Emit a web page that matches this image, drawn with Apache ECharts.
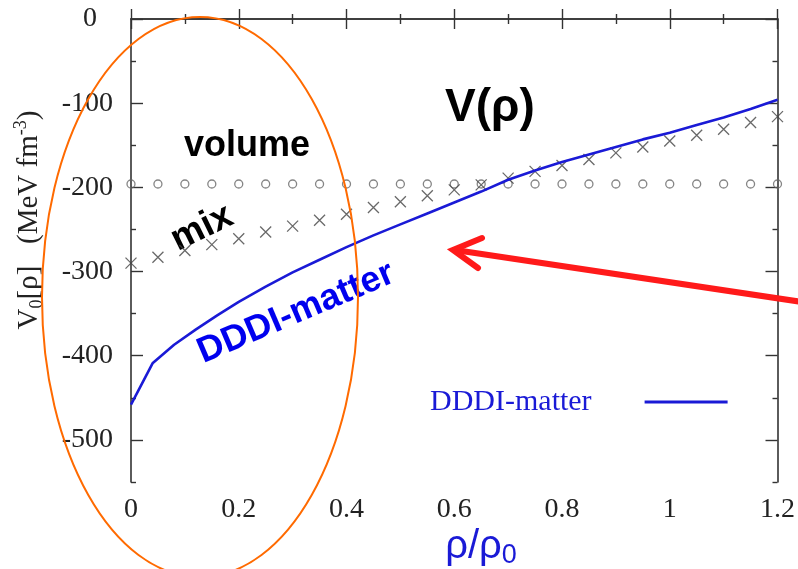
<!DOCTYPE html>
<html>
<head>
<meta charset="utf-8">
<script src="https://cdn.jsdelivr.net/npm/echarts@6/dist/echarts.min.js"></script>
<style>
  html, body { margin: 0; padding: 0; background: #fff; }
  #chart { width: 798px; height: 569px; }
</style>
</head>
<body>
<div id="chart"></div>
<script>
// Density grid (rho / rho0) and potentials in MeV fm^-3
const markerRho = [0, 0.05, 0.1, 0.15, 0.2, 0.25, 0.3, 0.35, 0.4, 0.45, 0.5, 0.55, 0.6,
  0.65, 0.7, 0.75, 0.8, 0.85, 0.9, 0.95, 1.0, 1.05, 1.1, 1.15, 1.2];
const volumeV = [-196, -196, -196, -196, -196, -196, -196, -196, -196, -196, -196, -196, -196,
  -196, -196, -196, -196, -196, -196, -196, -196, -196, -196, -196, -196];
const mixV = [-290, -283, -275, -268, -261, -253, -246, -239, -232, -224, -217, -210, -203,
  -197, -189, -181, -174, -167, -159, -152, -145, -138, -131, -123, -116];

const dddiRho = [0, 0.04, 0.08, 0.12, 0.16, 0.2, 0.25, 0.3, 0.35, 0.4, 0.45, 0.5, 0.55, 0.6,
  0.65, 0.7, 0.75, 0.8, 0.85, 0.9, 0.95, 1.0, 1.05, 1.1, 1.15, 1.2];
const dddiV = [-458, -409, -387, -369, -352, -336, -318, -301, -286, -271, -257, -244, -231, -218,
  -205, -191, -180, -170, -161, -152, -143, -135, -126, -117, -107, -96];

const yMajor = [0, -100, -200, -300, -400, -500];
const yMinor = [-50, -150, -250, -350, -450, -550];

const pairs = (xs, ys) => xs.map((x, i) => [x, ys[i]]);

const axisColor = '#333';
const labelFont = 'Liberation Serif';
const blue = '#1a1ad6';

const chart = echarts.init(document.getElementById('chart'), null, { renderer: 'canvas' });

const xBase = {
  type: 'value', min: 0, max: 1.2, interval: 0.2,
  splitLine: { show: false },
  axisLine: { show: true, lineStyle: { color: axisColor, width: 1.6 } },
  axisTick: { show: true, inside: true, length: 10, lineStyle: { color: axisColor, width: 1.4 } },
  minorTick: { show: true, splitNumber: 2, length: 5, lineStyle: { color: axisColor, width: 1.4 } }
};
const yBase = {
  type: 'value', min: -550, max: 0,
  splitLine: { show: false },
  axisLabel: { show: false }
};

chart.setOption({
  animation: false,
  backgroundColor: '#fff',
  grid: { left: 131, right: 17, top: 19, bottom: 87 },
  legend: {
    left: 425, top: 382,
    align: 'right',
    icon: 'rect',
    itemWidth: 83, itemHeight: 3,
    data: ['DDDI-matter'],
    textStyle: { fontFamily: labelFont, fontSize: 30, color: blue, padding: [0, 48, 0, 0] }
  },
  xAxis: [
    Object.assign({}, xBase, {
      position: 'bottom',
      axisLabel: { show: true, margin: 14, fontFamily: labelFont, fontSize: 28, color: '#222' }
    }),
    Object.assign({}, xBase, { position: 'top', axisLabel: { show: false } })
  ],
  yAxis: [
    Object.assign({}, yBase, {
      position: 'left',
      axisLine: { show: true, lineStyle: { color: axisColor, width: 1.6 } },
      axisTick: { show: true, inside: true, length: 12, customValues: yMajor, lineStyle: { color: axisColor, width: 1.4 } },
      axisLabel: {
        show: true, customValues: yMajor, margin: 18,
        fontFamily: labelFont, fontSize: 28, color: '#222',
        formatter: v => (v === 0 ? '{z|0}' : String(v)),
        rich: { z: { fontFamily: labelFont, fontSize: 28, color: '#222', padding: [0, 16, 0, 0] } }
      }
    }),
    Object.assign({}, yBase, {
      position: 'left',
      axisLine: { show: false },
      axisTick: { show: true, inside: true, length: 5, customValues: yMinor, lineStyle: { color: axisColor, width: 1.4 } }
    }),
    Object.assign({}, yBase, {
      position: 'right',
      axisLine: { show: true, lineStyle: { color: axisColor, width: 1.6 } },
      axisTick: { show: true, inside: true, length: 12, customValues: yMajor, lineStyle: { color: axisColor, width: 1.4 } }
    }),
    Object.assign({}, yBase, {
      position: 'right',
      axisLine: { show: false },
      axisTick: { show: true, inside: true, length: 5, customValues: yMinor, lineStyle: { color: axisColor, width: 1.4 } }
    })
  ],
  series: [
    {
      name: 'volume', type: 'scatter', data: pairs(markerRho, volumeV),
      symbol: 'circle', symbolSize: 8,
      itemStyle: { color: 'rgba(255,255,255,0)', borderColor: '#666', borderWidth: 1.3 },
      z: 2
    },
    {
      name: 'mix', type: 'scatter', data: pairs(markerRho, mixV),
      symbol: 'path://M0,0L10,10M10,0L0,10', symbolSize: 11,
      itemStyle: { color: '#444', borderColor: '#444', borderWidth: 1.3 },
      z: 3
    },
    {
      name: 'DDDI-matter', type: 'line', data: pairs(dddiRho, dddiV),
      showSymbol: false, symbol: 'none',
      lineStyle: { color: blue, width: 2.6 },
      itemStyle: { color: blue },
      z: 4
    }
  ],
  graphic: [
    {
      type: 'text', x: 29, y: 220, rotation: Math.PI / 2,
      style: {
        text: '{a|V}{s|0}{a|[ρ]   (MeV fm}{p|-3}{a|)}',
        align: 'center', verticalAlign: 'middle',
        rich: {
          a: { fontFamily: labelFont, fontSize: 29, fill: '#222', lineHeight: 34 },
          s: { fontFamily: labelFont, fontSize: 18, fill: '#222', lineHeight: 34, verticalAlign: 'bottom' },
          p: { fontFamily: labelFont, fontSize: 18, fill: '#222', lineHeight: 34, verticalAlign: 'top' }
        }
      }
    },
    {
      type: 'text', x: 481, y: 547,
      style: {
        text: '{r|ρ/ρ}{s|0}',
        align: 'center', verticalAlign: 'middle',
        rich: {
          r: { fontFamily: 'Liberation Sans', fontSize: 40, fill: blue, lineHeight: 44 },
          s: { fontFamily: 'Liberation Sans', fontSize: 27, fill: blue, lineHeight: 44, verticalAlign: 'bottom' }
        }
      }
    },
    {
      type: 'text', x: 490, y: 108,
      style: { text: 'V(ρ)', font: 'bold 46px "Liberation Sans"', fill: '#000', align: 'center', verticalAlign: 'middle' }
    },
    {
      type: 'text', x: 247, y: 146,
      style: { text: 'volume', font: 'bold 36px "Liberation Sans"', fill: '#000', align: 'center', verticalAlign: 'middle' }
    },
    {
      type: 'text', x: 202, y: 228, rotation: 26 * Math.PI / 180,
      style: { text: 'mix', font: 'bold 37px "Liberation Sans"', fill: '#000', align: 'center', verticalAlign: 'middle' }
    },
    {
      type: 'text', x: 296, y: 313, rotation: 23 * Math.PI / 180,
      style: { text: 'DDDI-matter', font: 'bold 36px "Liberation Sans"', fill: '#0000ee', align: 'center', verticalAlign: 'middle' }
    },
    {
      type: 'ellipse', shape: { cx: 200, cy: 297, rx: 158, ry: 280 },
      style: { fill: 'none', stroke: '#ff6a00', lineWidth: 2 }, z: 10
    },
    {
      type: 'polyline', shape: { points: [[455, 250], [802, 302]] },
      style: { stroke: '#ff1a1a', lineWidth: 6, fill: 'none' }, z: 10
    },
    {
      type: 'polyline', shape: { points: [[482, 238], [453, 250], [478, 268]] },
      style: { stroke: '#ff1a1a', lineWidth: 6, fill: 'none', lineJoin: 'miter', lineCap: 'round' }, z: 10
    }
  ]
});
</script>
</body>
</html>
